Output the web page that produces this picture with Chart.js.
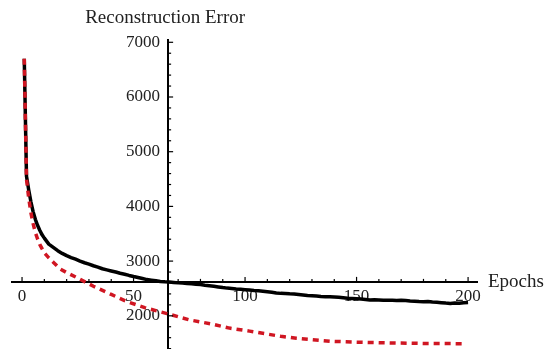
<!DOCTYPE html>
<html>
<head>
<meta charset="utf-8">
<script src="https://cdn.jsdelivr.net/npm/chart.js@4"></script>
<style>
  html, body { margin: 0; padding: 0; background: #ffffff; }
  #wrap { width: 544px; height: 349px; }
</style>
</head>
<body>
<div id="wrap"><canvas id="c" width="544" height="349"></canvas></div>
<script>
// ---- data ----
const blackEpochs = [1,2,3,4,5,6,7,8,9,10,12,14,16,18,20,22,24,26,28,30,32,34,36,38,40,42,44,46,48,50,52,54,56,58,60,62,64,66,68,70,72,74,76,78,80,82,84,86,88,90,92,94,96,98,100,102,104,106,108,110,112,114,116,118,120,122,124,126,128,130,132,134,136,138,140,142,144,146,148,150,152,154,156,158,160,162,164,166,168,170,172,174,176,178,180,182,184,186,188,190,192,194,196,198,200];
const blackError = [6700,4550,4300,4080,3900,3760,3650,3560,3480,3420,3310,3250,3190,3140,3100,3065,3035,3000,2970,2945,2915,2890,2860,2840,2820,2800,2778,2760,2738,2718,2700,2682,2662,2652,2640,2628,2622,2618,2610,2602,2598,2590,2586,2578,2572,2560,2550,2540,2528,2516,2506,2500,2492,2486,2478,2470,2462,2456,2450,2440,2430,2418,2410,2408,2402,2398,2390,2382,2372,2366,2360,2352,2350,2350,2345,2338,2330,2322,2316,2310,2305,2298,2290,2292,2288,2284,2282,2285,2280,2286,2280,2272,2266,2260,2256,2262,2254,2248,2240,2232,2226,2232,2228,2240,2245];

const redEpochs = [1,2,3,4,5,6,7,8,10,12,14,17,20,25,32,40,47,55,65,75,85,93,102,116,123,138,150,164,180,198];
const redError = [6700,4500,4150,3880,3680,3520,3400,3300,3150,3060,2980,2860,2790,2690,2540,2390,2260,2150,2040,1925,1850,1775,1720,1625,1590,1535,1518,1505,1495,1490];

const xTickValues = [0,50,100,150,200];
const yTickValues = [2000,3000,4000,5000,6000,7000];
const xMinorStep = 10;
const yMinorStep = 200;

const xAxisTitle = "Epochs";
const yAxisTitle = "Reconstruction Error";

// where the axes cross
const axesOriginX = 65.5;
const axesOriginY = 2620;

const FONT = '"Liberation Serif", "DejaVu Serif", serif';

const toPts = (xs, ys) => xs.map((x, i) => ({x: x, y: ys[i]}));

const ticksPlugin = {
  id: 'mmaTicks',
  afterDraw(chart) {
    const ctx = chart.ctx;
    const xs = chart.scales.x, ys = chart.scales.y;
    const axY = ys.getPixelForValue(axesOriginY);
    const axX = xs.getPixelForValue(axesOriginX);
    ctx.save();
    ctx.strokeStyle = '#000';
    ctx.lineWidth = 1.2;
    for (let v = 0; v <= 200; v += xMinorStep) {
      const p = xs.getPixelForValue(v);
      const major = xTickValues.includes(v);
      ctx.beginPath();
      ctx.moveTo(p, axY);
      ctx.lineTo(p, axY - (major ? 5 : 3));
      ctx.stroke();
    }
    for (let v = 1400; v <= 7000; v += yMinorStep) {
      const p = ys.getPixelForValue(v);
      const major = yTickValues.includes(v);
      ctx.beginPath();
      ctx.moveTo(axX, p);
      ctx.lineTo(axX + (major ? 5 : 3), p);
      ctx.stroke();
    }
    ctx.fillStyle = '#222';
    ctx.font = '19px ' + FONT;
    ctx.textAlign = 'center';
    ctx.textBaseline = 'alphabetic';
    ctx.fillText(yAxisTitle, axX - 3, 23);
    ctx.textAlign = 'left';
    ctx.fillText(xAxisTitle, xs.right + 11, 287);
    ctx.restore();
  }
};

function zeroFit(s, horizontal) {
  if (horizontal) s.height = 0; else s.width = 0;
  s.paddingTop = 0; s.paddingBottom = 0; s.paddingLeft = 0; s.paddingRight = 0;
}

new Chart(document.getElementById('c'), {
  type: 'scatter',
  data: {
    datasets: [
      {
        label: 'red',
        data: toPts(redEpochs, redError),
        showLine: true,
        borderColor: 'rgb(208,22,34)',
        borderWidth: 3.5,
        borderDash: [6, 5],
        borderCapStyle: 'butt',
        pointRadius: 0,
        tension: 0,
        order: 0
      },
      {
        label: 'black',
        data: toPts(blackEpochs, blackError),
        showLine: true,
        borderColor: '#000',
        borderWidth: 3.5,
        borderJoinStyle: 'round',
        pointRadius: 0,
        tension: 0,
        order: 1
      }
    ]
  },
  options: {
    responsive: false,
    animation: false,
    devicePixelRatio: 1,
    layout: { padding: { left: 12, right: 67, top: 40, bottom: 0 } },
    plugins: { legend: { display: false }, tooltip: { enabled: false }, title: { display: false } },
    scales: {
      x: {
        type: 'linear',
        min: -4.5, max: 204,
        position: { y: axesOriginY },
        afterFit(s) { zeroFit(s, true); },
        afterBuildTicks(s) { s.ticks = xTickValues.map(v => ({value: v})); },
        grid: { display: true, drawOnChartArea: false, drawTicks: false },
        border: { display: true, color: '#000', width: 2 },
        ticks: { color: '#222', padding: 4, font: { family: FONT, size: 17 }, maxRotation: 0, autoSkip: false,
                 callback: v => String(v) }
      },
      y: {
        type: 'linear',
        min: 1393, max: 7042,
        position: { x: axesOriginX },
        afterFit(s) {
          zeroFit(s, false);
          if (!s._shifted) {
            const orig = s._computeLabelItems;
            s._computeLabelItems = function (ca) {
              const items = orig.call(this, ca);
              items.forEach(it => { it.options.translation[0] -= 8; });
              return items;
            };
            s._shifted = true;
          }
        },
        afterBuildTicks(s) { s.ticks = yTickValues.map(v => ({value: v})); },
        grid: { display: true, drawOnChartArea: false, drawTicks: false },
        border: { display: true, color: '#000', width: 2 },
        ticks: { color: '#222', padding: 8, font: { family: FONT, size: 17 }, autoSkip: false,
                 callback: v => String(v) }
      }
    }
  },
  plugins: [ticksPlugin]
});
</script>
</body>
</html>
